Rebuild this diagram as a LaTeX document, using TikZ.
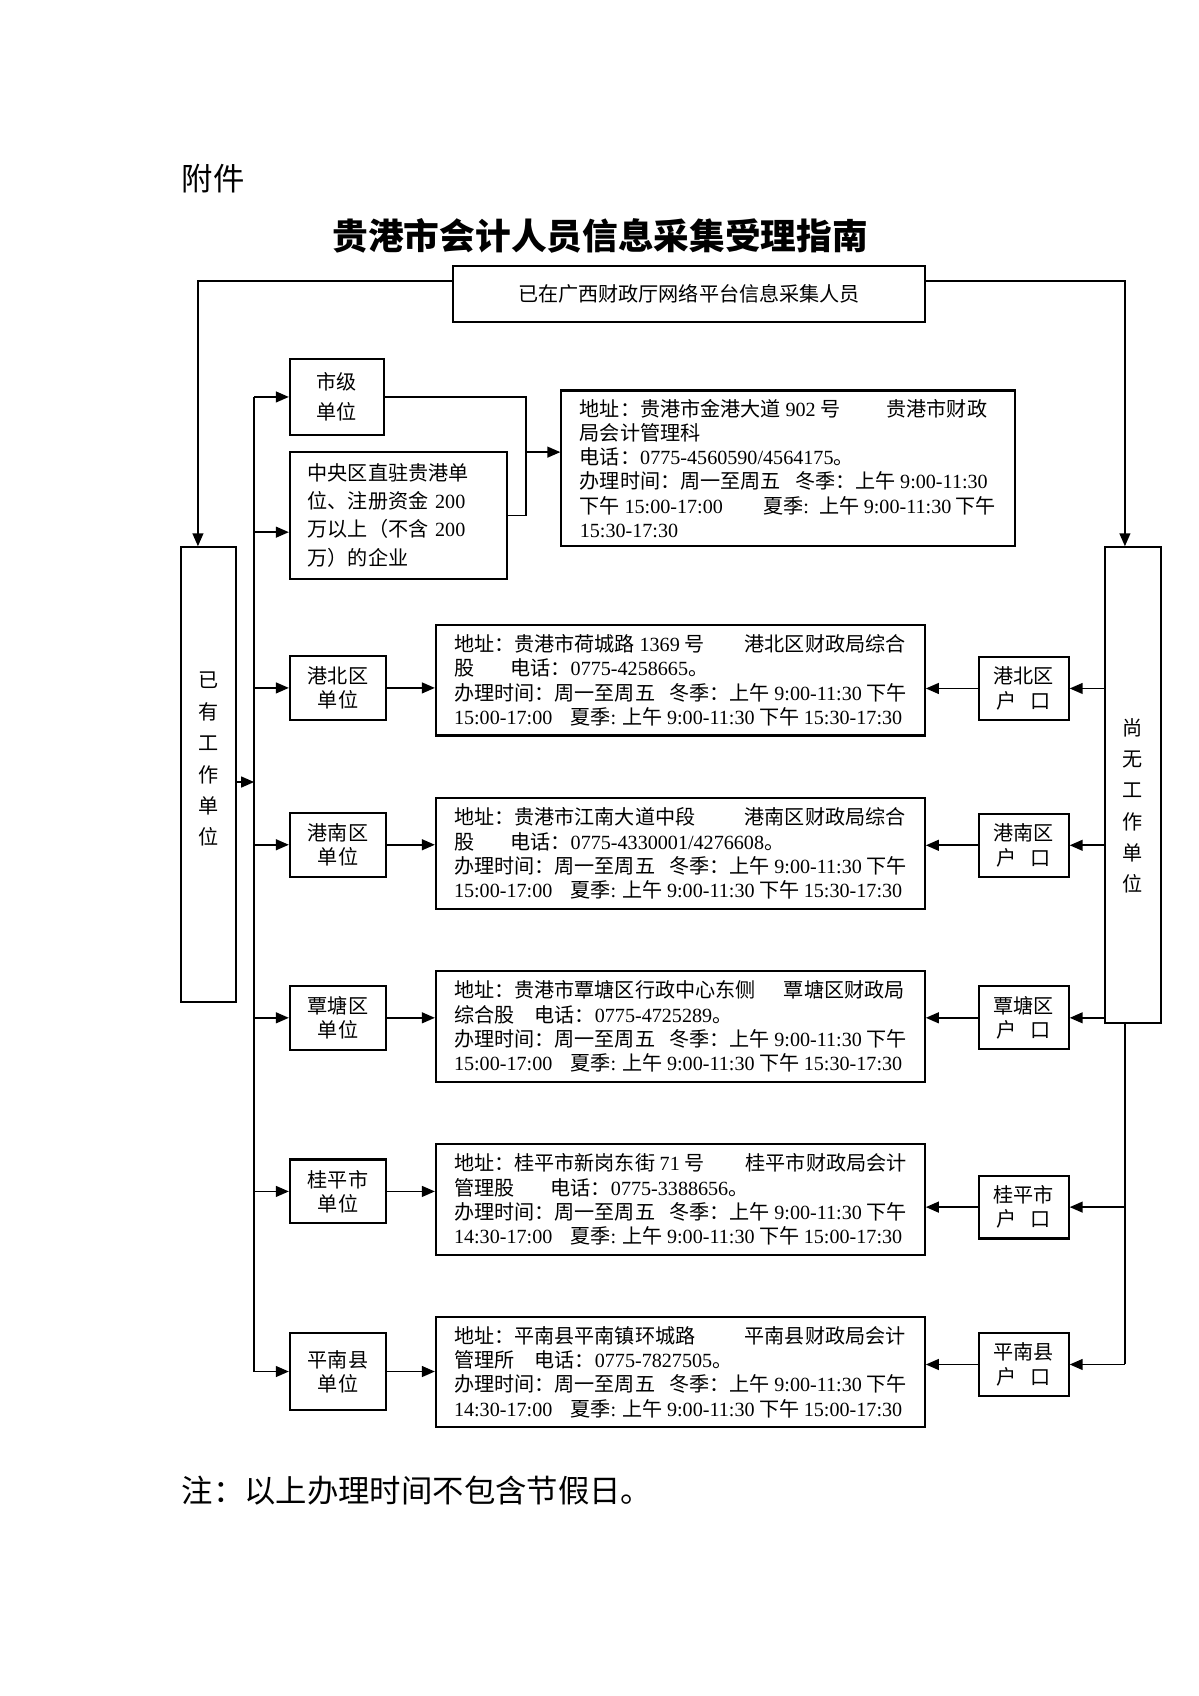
\documentclass[tikz,border=0pt]{standalone}
\usepackage{fontspec}
\setmainfont{Noto Sans CJK SC}
\newfontfamily\tnrfont{Liberation Serif}
\newcommand{\tnr}[1]{{\tnrfont #1}}
\usepackage{tikz}
\usetikzlibrary{positioning,arrows.meta}

\tikzset{
  plainbox/.style={draw, line width=0.95pt, font=\fontsize{9.3pt}{11.2pt}\selectfont},
  unitbox/.style={plainbox, minimum width=44.5pt, minimum height=29.5pt, align=center, inner sep=1pt},
  hukoubox/.style={plainbox, minimum width=41.5pt, minimum height=29pt, align=center, inner sep=1pt},
  addrbox/.style={plainbox, minimum width=226pt, minimum height=51pt, align=left, inner sep=2pt},
  tallbox/.style={plainbox, minimum width=25.5pt},
  coltext/.style={align=center, font=\fontsize{9.3pt}{14.5pt}\selectfont},
  link/.style={line width=0.8pt},
}

\begin{document}
\begin{tikzpicture}[x=0.5pt, y=-0.5pt, >={Triangle[length=6pt,width=5pt]}]
\useasboundingbox (0,0) rectangle (1108.5,1568);

% heading
\node[anchor=west, font=\fontsize{14.5pt}{17pt}\selectfont] (fj) at (161,165) {附件};
\node[font=\fontsize{16.5pt}{20pt}\selectfont\bfseries] (title) at (555,218) {贵港市会计人员信息采集受理指南};

% top node and the two columns
\node[plainbox, minimum width=218pt, minimum height=26pt] (top) at (637,272) {已在广西财政厅网络平台信息采集人员};
\node[tallbox, minimum height=210pt] (L) at (192.5,716) {};
\node[coltext] (Ltxt) at ([yshift=7pt]L.center) {已\\有\\工\\作\\单\\位};
\node[tallbox, minimum height=220pt] (R) at (1047.5,726) {};
\node[coltext] (Rtxt) at ([yshift=-9.5pt]R.center) {尚\\无\\工\\作\\单\\位};

% city level
\node[plainbox, minimum width=43.5pt, minimum height=35pt, align=center, font=\fontsize{9.3pt}{14pt}\selectfont] (S0) at (311.5,367) {市级\\单位};
\node[plainbox, text width=84pt, inner xsep=8.25pt, minimum height=58.5pt, align=left, font=\fontsize{9.3pt}{13pt}\selectfont] (S1) at (368.5,476.5) {中央区直驻贵港单\\位、注册资金 \tnr{200}\\万以上（不含 \tnr{200}\\万）的企业};
\node[plainbox, minimum width=209.5pt, minimum height=72pt, align=left] (D0) at (728.5,433) {地址：贵港市金港大道 \tnr{902} 号\hspace{2.3em}贵港市财政\\
局会计管理科\\
电话：\tnr{0775-4560590/4564175}。\\
办理时间：周一至周五\hspace{0.7em}冬季：上午 \tnr{9:00-11:30}\\
下午 \tnr{15:00-17:00}\hspace{2em}夏季\tnr{:}\hspace{0.5em}上午 \tnr{9:00-11:30} 下午\\
\tnr{15:30-17:30}};

% unit nodes
\node[unitbox] (U1) at (312.5,636) {港北区\\单位};
\node[unitbox] (U2) at (312.5,781) {港南区\\单位};
\node[unitbox] (U3) at (312.5,941) {覃塘区\\单位};
\node[unitbox] (U4) at (312.5,1101.5) {桂平市\\单位};
\node[unitbox, minimum height=36pt] (U5) at (312.5,1268) {平南县\\单位};

% address nodes
\node[addrbox] (D1) at (629,629) {地址：贵港市荷城路 \tnr{1369} 号\hspace{2em}港北区财政局综合\\
股\hspace{1.8em}电话：\tnr{0775-4258665}。\\
办理时间：周一至周五\hspace{0.7em}冬季：上午 \tnr{9:00-11:30} 下午\\
\tnr{15:00-17:00}\hspace{0.9em}夏季\tnr{:} 上午 \tnr{9:00-11:30} 下午 \tnr{15:30-17:30}};
\node[addrbox] (D2) at (629,789) {地址：贵港市江南大道中段\hspace{2.45em}港南区财政局综合\\
股\hspace{1.8em}电话：\tnr{0775-4330001/4276608}。\\
办理时间：周一至周五\hspace{0.7em}冬季：上午 \tnr{9:00-11:30} 下午\\
\tnr{15:00-17:00}\hspace{0.9em}夏季\tnr{:} 上午 \tnr{9:00-11:30} 下午 \tnr{15:30-17:30}};
\node[addrbox] (D3) at (629,949) {地址：贵港市覃塘区行政中心东侧\hspace{1.4em}覃塘区财政局\\
综合股\hspace{1em}电话：\tnr{0775-4725289}。\\
办理时间：周一至周五\hspace{0.7em}冬季：上午 \tnr{9:00-11:30} 下午\\
\tnr{15:00-17:00}\hspace{0.9em}夏季\tnr{:} 上午 \tnr{9:00-11:30} 下午 \tnr{15:30-17:30}};
\node[addrbox] (D4) at (629,1109) {地址：桂平市新岗东街 \tnr{71} 号\hspace{2.05em}桂平市财政局会计\\
管理股\hspace{1.8em}电话：\tnr{0775-3388656}。\\
办理时间：周一至周五\hspace{0.7em}冬季：上午 \tnr{9:00-11:30} 下午\\
\tnr{14:30-17:00}\hspace{0.9em}夏季\tnr{:} 上午 \tnr{9:00-11:30} 下午 \tnr{15:00-17:30}};
\node[addrbox] (D5) at (629,1268.5) {地址：平南县平南镇环城路\hspace{2.45em}平南县财政局会计\\
管理所\hspace{1em}电话：\tnr{0775-7827505}。\\
办理时间：周一至周五\hspace{0.7em}冬季：上午 \tnr{9:00-11:30} 下午\\
\tnr{14:30-17:00}\hspace{0.9em}夏季\tnr{:} 上午 \tnr{9:00-11:30} 下午 \tnr{15:00-17:30}};

% hukou nodes
\node[hukoubox] (H1) at (946.5,636.5) {港北区\\户\hspace{0.7em}口};
\node[hukoubox] (H2) at (946.5,781.5) {港南区\\户\hspace{0.7em}口};
\node[hukoubox] (H3) at (946.5,941) {覃塘区\\户\hspace{0.7em}口};
\node[hukoubox] (H4) at (946.5,1116) {桂平市\\户\hspace{0.7em}口};
\node[hukoubox] (H5) at (946.5,1261.5) {平南县\\户\hspace{0.7em}口};

% note
\node[anchor=west, font=\fontsize{14.5pt}{17pt}\selectfont] (note) at (161,1378) {注：以上办理时间不包含节假日。};

% trunks
\coordinate (lt) at (235,0);
\coordinate (rt) at (1040,0);
\coordinate (J) at (486,418);
\coordinate (zyin) at ([yshift=-7.75pt]S1.west);

% arrows from the top
\draw[link,->] ([yshift=6pt]top.west) -| ([xshift=-4.75pt]L.north);
\draw[link,->] ([yshift=6pt]top.east) -| (rt |- R.north);

% left side
\draw[link] (lt |- S0.west) -- (lt |- U5.west);
\draw[link,->] ([yshift=-3.5pt]L.east) -- ([yshift=-3.5pt]L.east -| lt);
\draw[link,->] (lt |- S0.west) -- (S0.west);
\draw[link,->] (lt |- zyin) -- (zyin);
\draw[link] (S0.east) -| (J);
\draw[link] (S1.east) -| (J);
\draw[link,->] (J) -- (J -| D0.west);

% rows
\foreach \i in {1,...,5} {
  \draw[link,->] (lt |- U\i.west) -- (U\i.west);
  \draw[link,->] (U\i.east) -- (U\i.east -| D\i.west);
  \draw[link,->] (H\i.west) -- (H\i.west -| D\i.east);
}

% right side
\foreach \i in {1,2,3} \draw[link,->] (H\i.east -| R.west) -- (H\i.east);
\draw[link] (rt |- R.south) -- (rt |- H5.east);
\foreach \i in {4,5} \draw[link,->] (rt |- H\i.east) -- (H\i.east);
\end{tikzpicture}
\end{document}
